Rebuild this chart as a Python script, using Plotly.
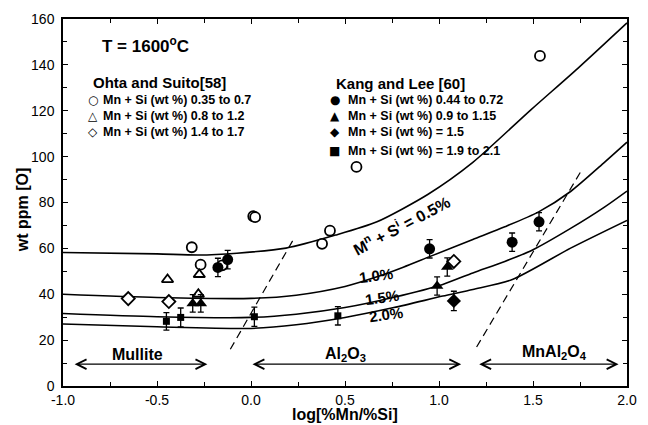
import plotly.graph_objects as go

# ---- model curves (Mn + Si = 0.5, 1.0, 1.5, 2.0 %) ----
x05 = [-1.0, -0.5, -0.28, -0.075, 0.186, 0.45, 0.67, 0.94, 1.18, 1.49, 1.74, 2.0]
y05 = [58.2, 57.6, 57.1, 57.9, 60.1, 65.8, 71.6, 83.5, 97.5, 120.5, 138.6, 158.3]
x10 = [-1.0, -0.5, 0.0, 0.24, 0.5, 0.67, 0.81, 0.95, 1.18, 1.35, 1.53, 1.70, 1.88, 2.0]
y10 = [40.0, 38.6, 38.2, 39.6, 43.4, 47.6, 51.8, 56.4, 63.9, 69.4, 75.9, 84.8, 97.5, 106.3]
x15 = [-1.0, -0.5, 0.0, 0.24, 0.5, 0.76, 1.02, 1.18, 1.35, 1.50, 1.70, 1.88, 2.0]
y15 = [31.6, 30.2, 29.9, 31.3, 34.2, 38.7, 44.3, 49.3, 54.3, 59.4, 68.7, 78.0, 85.0]
x20 = [-1.0, -0.5, 0.0, 0.24, 0.5, 0.76, 1.02, 1.18, 1.39, 1.70, 2.0]
y20 = [27.0, 25.8, 25.1, 26.7, 29.9, 34.2, 39.2, 42.1, 46.4, 60.1, 72.2]

# ---- phase boundary (dashed) ----
d1_x = [-0.11, 0.23]
d1_y = [16.0, 64.5]
d2_x = [1.2, 1.765]
d2_y = [17.0, 95.0]

# ---- Ohta and Suito [58] (open symbols) ----
oc_x = [-0.315, -0.268, -0.153, 0.012, 0.022, 0.378, 0.42, 0.561, 1.537]
oc_y = [60.5, 52.9, 52.6, 74.0, 73.6, 62.0, 67.7, 95.5, 143.9]
ot_x = [-0.444, -0.275, -0.28]
ot_y = [46.4, 48.6, 40.0]
od_x = [-0.653, -0.437, 1.079]
od_y = [38.1, 36.8, 54.3]

# ---- Kang and Lee [60] (filled symbols, with error bars) ----
kc_x = [-0.176, -0.124, 0.95, 1.389, 1.532]
kc_y = [51.7, 55.1, 59.8, 62.7, 71.6]
kc_e = [4.0, 4.0, 4.0, 4.0, 4.0]
kt_x = [-0.31, -0.267, 0.99, 1.044]
kt_y = [36.0, 36.0, 43.6, 51.9]
kt_e = [3.8, 3.8, 4.0, 4.0]
kd_x = [1.079]
kd_y = [37.1]
kd_e = [4.2]
ks_x = [-0.45, -0.374, 0.018, 0.462]
ks_y = [28.2, 29.9, 30.2, 30.6]
ks_e = [3.8, 4.1, 4.2, 4.0]

# ---- labels ----
ohta_title = "Ohta and Suito[58]"
ohta_items = ["Mn + Si (wt %) 0.35 to 0.7", "Mn + Si (wt %) 0.8 to 1.2", "Mn + Si (wt %) 1.4 to 1.7"]
ohta_syms = ["○", "△", "◇"]
kang_title = "Kang and Lee [60]"
kang_items = ["Mn + Si (wt %) 0.44 to 0.72", "Mn + Si (wt %) 0.9 to 1.15",
              "Mn + Si (wt %) = 1.5", "Mn + Si (wt %) = 1.9 to 2.1"]
kang_syms = ["●", "▲", "◆", "■"]
x_ticks = [-1.0, -0.5, 0.0, 0.5, 1.0, 1.5, 2.0]
y_ticks = [0, 20, 40, 60, 80, 100, 120, 140, 160]

FONT = "Liberation Sans, Arial, sans-serif"
fig = go.Figure()

for xs, ys in [(x05, y05), (x10, y10), (x15, y15), (x20, y20)]:
    fig.add_trace(go.Scatter(x=xs, y=ys, mode="lines",
                             line=dict(color="black", width=1.6, shape="spline", smoothing=0.7),
                             showlegend=False, hoverinfo="skip"))
for xs, ys in [(d1_x, d1_y), (d2_x, d2_y)]:
    fig.add_trace(go.Scatter(x=xs, y=ys, mode="lines",
                             line=dict(color="black", width=1.2, dash="8px,5px"),
                             showlegend=False, hoverinfo="skip"))

def open_pts(xs, ys, sym, size):
    fig.add_trace(go.Scatter(x=xs, y=ys, mode="markers", showlegend=False,
                             marker=dict(symbol=sym, size=size, color="white",
                                         line=dict(color="black", width=1.8))))

def filled_pts(xs, ys, es, sym, size):
    fig.add_trace(go.Scatter(x=xs, y=ys, mode="markers", showlegend=False,
                             error_y=dict(type="data", array=es, color="black", thickness=1.3, width=3),
                             marker=dict(symbol=sym, size=size, color="black",
                                         line=dict(color="black", width=0))))

open_pts(oc_x, oc_y, "circle", 10)
open_pts(ot_x, ot_y, "triangle-up", 10)
open_pts(od_x, od_y, "diamond", 10)
filled_pts(kc_x, kc_y, kc_e, "circle", 11)
filled_pts(kt_x, kt_y, kt_e, "triangle-up", 11)
filled_pts(kd_x, kd_y, kd_e, "diamond", 11)
filled_pts(ks_x, ks_y, ks_e, "square", 7)

ann = []
def txt(x, y, s, size, bold=True, xanchor="center", angle=0):
    ann.append(dict(x=x, y=y, xref="x", yref="y", text=("<b>%s</b>" % s) if bold else s,
                    showarrow=False, xanchor=xanchor, yanchor="middle", textangle=angle,
                    font=dict(family=FONT, size=size, color="black")))

txt(-0.563, 148.5, "T = 1600<sup>o</sup>C", 17)
txt(-0.85, 132.4, ohta_title, 15, xanchor="left")
ohta_y = [124.8, 117.7, 110.7]
for s, t, yy in zip(ohta_syms, ohta_items, ohta_y):
    ann.append(dict(x=-0.84, y=yy, xref="x", yref="y", text=s, showarrow=False, xanchor="center",
                    yanchor="middle", font=dict(family="DejaVu Sans", size=12, color="black")))
    txt(-0.80, yy, t, 12.5, xanchor="left")
txt(0.439, 132.0, kang_title, 15, xanchor="left")
kang_y = [124.8, 117.9, 110.6, 102.5]
for s, t, yy in zip(kang_syms, kang_items, kang_y):
    ann.append(dict(x=0.445, y=yy, xref="x", yref="y", text=s, showarrow=False, xanchor="center",
                    yanchor="middle", font=dict(family="DejaVu Sans", size=12, color="black")))
    txt(0.504, yy, t, 12.5, xanchor="left")

txt(0.80, 70.0, "M<sup>n</sup> + S<sup>i</sup> = 0.5%", 16, angle=-28)
txt(0.666, 48.3, "1.0%", 15, angle=-8)
txt(0.695, 38.6, "1.5%", 15, angle=-8)
txt(0.718, 31.0, "2.0%", 15, angle=-8)

txt(-0.606, 13.6, "Mullite", 16)
txt(0.5, 13.8, "Al<sub>2</sub>O<sub>3</sub>", 16)
txt(1.615, 14.8, "MnAl<sub>2</sub>O<sub>4</sub>", 16)

for a, b in [(-0.946, -0.232), (0.0, 1.118), (1.206, 1.955)]:
    ann.append(dict(x=b, y=9.5, ax=a, ay=9.5, xref="x", yref="y", axref="x", ayref="y",
                    text="", showarrow=True, arrowside="end+start", arrowhead=5,
                    arrowsize=1.6, arrowwidth=1.2, arrowcolor="black"))

ann.append(dict(x=0.5, y=-0.079, xref="paper", yref="paper", text="<b>log[%Mn/%Si]</b>",
                showarrow=False, xanchor="center", yanchor="middle",
                font=dict(family=FONT, size=16, color="black")))
ann.append(dict(x=-0.072, y=0.48, xref="paper", yref="paper", text="<b>wt ppm [O]</b>",
                showarrow=False, xanchor="center", yanchor="middle", textangle=-90,
                font=dict(family=FONT, size=16, color="black")))

axis_common = dict(showline=True, linecolor="black", linewidth=1.5, mirror="ticks",
                   ticks="inside", ticklen=5, tickwidth=1.2, tickcolor="black",
                   showgrid=False, zeroline=False,
                   tickfont=dict(family=FONT, size=14, color="black"))
fig.update_xaxes(range=[-1.0, 2.0], tickvals=x_ticks, ticktext=["%.1f" % v for v in x_ticks],
                 minor=dict(dtick=0.25, ticks="inside", ticklen=4, tickcolor="black", tickwidth=1),
                 ticklabelstandoff=0, **axis_common)
fig.update_yaxes(range=[0, 160], tickvals=y_ticks,
                 minor=dict(dtick=10, ticks="inside", ticklen=4, tickcolor="black", tickwidth=1),
                 ticklabelstandoff=4, **axis_common)

fig.update_layout(width=648, height=425, margin=dict(l=63, r=11, t=15, b=39),
                  paper_bgcolor="white", plot_bgcolor="white", annotations=ann,
                  showlegend=False, font=dict(family=FONT))
fig.write_html("out.html")
